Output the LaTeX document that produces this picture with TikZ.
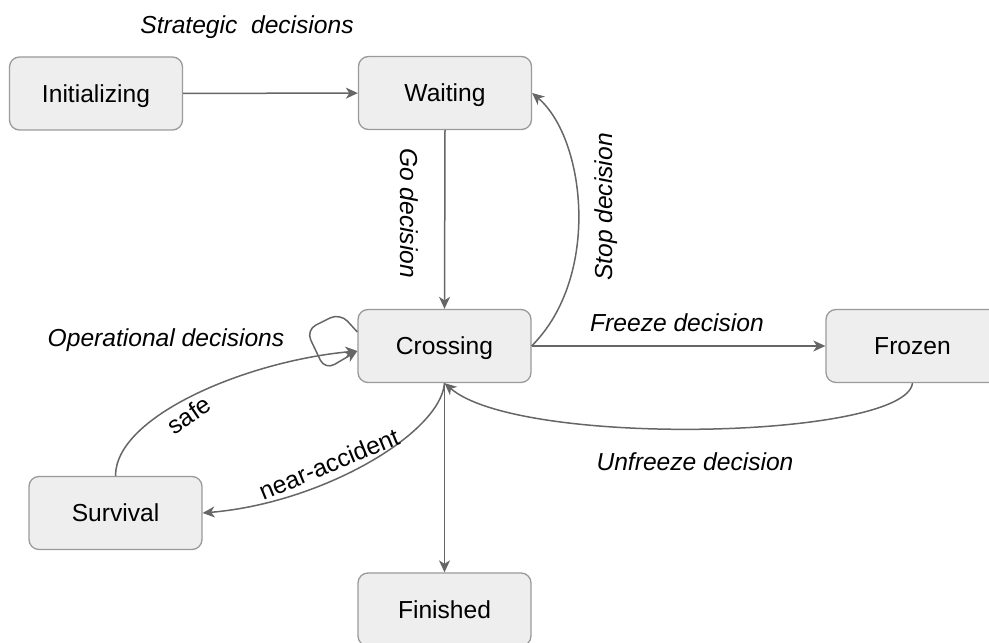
\documentclass[tikz,border=0pt]{standalone}
\usepackage{fontspec}
\setmainfont{Liberation Sans}
\usetikzlibrary{arrows.meta}
\definecolor{boxfill}{HTML}{EEEEEE}
\definecolor{boxline}{HTML}{9A9A9A}
\definecolor{edgegray}{HTML}{666666}
\begin{document}
\begin{tikzpicture}[x=1pt,y=1pt,
  state/.style={draw=boxline, fill=boxfill, line width=1.3pt, rounded corners=10pt,
    minimum width=173pt, minimum height=73pt, inner sep=0pt,
    text height=17.5pt, text depth=0pt, font=\fontsize{24.6}{28}\selectfont},
  trans/.style={draw=edgegray, line width=1.5pt,
    -{Stealth[length=12pt,width=11pt,inset=3.5pt]}},
  lbl/.style={font=\fontsize{24.6}{28}\selectfont\itshape, inner sep=0pt,
    text height=17.5pt, text depth=0pt},
  elbl/.style={font=\fontsize{24.6}{28}\selectfont, inner sep=0pt,
    text height=17.5pt, text depth=0pt}]
\clip (0,0) rectangle (989,643);

% states
\node[state] (init) at (96,549.5) {Initializing};
\node[state] (wait) at (445,550) {Waiting};
\node[state] (cross) at (444.5,297) {Crossing};
\node[state] (frozen) at (912.5,297) {Frozen};
\node[state] (surv) at (115.5,130) {Survival};
\node[state] (fin) at (444.5,33.5) {Finished};

% transitions
\draw[trans] (init) -- (wait);
\draw[trans] (wait.south) -- (cross.north);
\draw[trans] (cross.east) .. controls +(70,70) and +(53,-45) .. (wait.east);
\draw[trans] (cross.east) -- (frozen.west);
\draw[trans] (frozen.south) .. controls +(-7,-56) and +(75,-65) .. (cross.south);
\draw[trans] (cross.south) -- (fin.north);
\draw[trans] (cross.south) .. controls +(-4,-50) and +(120,10) .. (surv.east);
\coordinate (hit) at ([yshift=-5pt]cross.west);
\draw[trans] (surv.north) .. controls +(0,60) and +(-110,-10) .. (hit);
\draw[trans, rounded corners=11pt] ([yshift=14pt]cross.west) -- (340,330) -- (306,313)
  -- (325,273) -- (hit);

% labels
\node[lbl] (strat) at (247,618) {Strategic~~decisions};
\node[lbl] (oper) at (166,305) {Operational decisions};
\node[lbl, rotate=-90] (go) at (409,430) {Go decision};
\node[lbl, rotate=90] (stop) at (604,436) {Stop decision};
\node[lbl] (freeze) at (677,320) {Freeze decision};
\node[lbl] (unfreeze) at (695,181) {Unfreeze decision};
\node[elbl, rotate=34] (safe) at (189,228) {safe};
\node[elbl, rotate=22.5] (near) at (329,179) {near-accident};
\end{tikzpicture}
\end{document}
